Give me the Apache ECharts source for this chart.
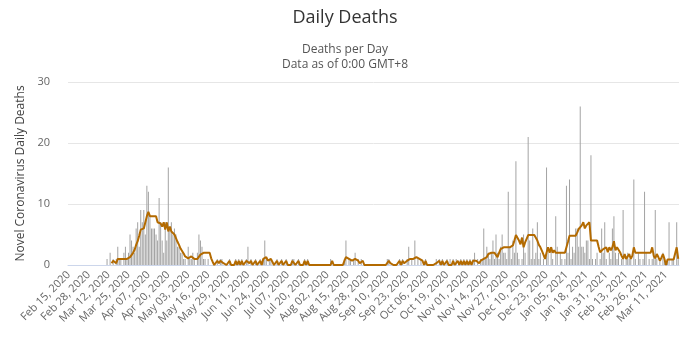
<!DOCTYPE html>
<html>
<head>
<meta charset="utf-8">
<script src="https://cdn.jsdelivr.net/npm/echarts@6/dist/echarts.min.js"></script>
<style>html,body{margin:0;padding:0;background:#fff}#c{width:690px;height:348px}</style>
</head>
<body>
<div id="c"></div>
<script>
// Date range of the chart (daily categories)
var startDate = [2020, 1, 15]; // Feb 15, 2020 (month 0-based)
var dayCount = 399;            // through Mar 19, 2021

// Daily deaths (bars)
var dailyDeaths = [
0,0,0,0,0,0,0,0,0,0,
0,0,0,0,0,0,0,0,0,0,
0,0,0,0,0,1,0,2,0,1,
0,1,3,1,1,0,2,3,1,2,
5,4,3,2,6,7,3,9,7,9,
5,13,12,8,6,6,6,5,4,11,
7,4,2,7,4,16,6,7,5,6,
5,3,3,2,2,1,1,0,3,1,
1,2,1,0,2,5,4,3,1,1,
0,1,0,0,0,0,0,1,0,1,
1,0,0,0,0,1,0,0,0,1,
0,1,0,1,0,0,1,3,0,1,
0,0,1,0,0,1,0,1,4,1,
0,1,1,0,0,0,1,0,0,1,
0,0,1,0,0,0,1,1,0,0,
1,0,0,0,1,0,1,0,0,0,
0,0,0,0,0,0,0,0,0,0,
0,1,0,0,0,0,0,0,0,0,
1,4,0,1,1,0,1,2,0,1,
0,1,0,0,0,0,0,0,0,0,
0,0,0,0,0,0,0,0,1,1,
0,0,0,0,0,0,1,0,1,0,
0,1,3,0,1,0,4,0,1,0,
1,0,0,1,0,0,0,0,0,0,
1,0,1,0,1,0,0,1,0,1,
0,1,0,1,0,0,1,0,1,0,
1,0,1,0,1,2,0,1,0,1,
1,6,1,3,2,1,2,4,1,5,
2,1,3,5,2,2,1,12,3,1,
4,2,17,2,1,0,1,5,2,0,
21,4,1,6,1,2,7,1,2,0,
1,0,16,2,0,3,1,0,8,3,
0,2,1,0,1,13,2,14,1,3,
2,6,6,3,26,3,3,2,4,4,
1,18,1,0,1,2,0,1,6,2,
7,1,0,2,1,6,8,2,1,2,
0,1,9,0,1,2,1,1,0,14,
1,0,2,1,0,1,12,2,0,1,
0,1,2,9,1,0,1,0,2,1,
0,1,7,0,1,1,0,7,1
];

// Moving average line (null = not drawn)
var movingAvg = [
null,null,null,null,null,null,null,null,null,null,
null,null,null,null,null,null,null,null,null,null,
null,null,null,null,null,null,null,null,0.3,0.7,
1,0.3,1,0.7,1,1,1,1,1,1,
1.3,1.6,2,2.5,3.3,3.9,4.8,5.8,6,6,
6.3,8,8.7,8,8,8,8,8,7,6.8,
6.8,6.3,7,5.8,7,5.5,6.3,5.5,5.5,5,
4.4,3.8,3.3,2.7,2.3,1.9,1.4,1.2,1.1,1.3,
1.4,1.2,1,1,1,1,1.7,2,2,2,
2,2,2,1.1,0.5,0,0,0.7,0.3,0.7,
0.8,0.3,0,0,0,0.7,0,0,0,0.7,
0,0.7,0,0.7,0,0,0.7,1,0.3,0.7,
0,0,0.7,0,0,0.7,0,1,1.3,1.3,
0.7,1,1,0.7,0,0,0.7,0,0,0.7,
0,0,0.7,0,0,0,0.7,0.7,0,0,
0.7,0,0,0,0.7,0,0.7,0,0,0,
0,0,0,0,0,0,0,0,0,0,
0,0,0.7,0,0,0,0,0,0,0,
0.7,1.3,1.3,1,1,0.7,1,1,0.7,0.7,
0.3,0.3,0.7,0,0,0,0,0,0,0,
0,0,0,0,0,0,0,0,0.3,0.7,
0.3,0,0,0,0,0,0.7,0,0.7,0.3,
0,0.7,1,1,1.3,1,1.3,1.3,1,1,
1,0.7,0,0.7,0,0,0,0,0,0,
0.3,0,0.7,0,0.7,0,0,0.7,0,0.3,
0,0.7,0,0.3,0.7,0,0.7,0,0.7,0,
0.7,0,0.7,0,0.7,1,0.7,0.7,0.3,0.7,
1,1,1,1.3,1.8,2,2,2,2,2,
1.3,2,2.6,2.9,2.9,2.9,2.9,2.9,2.9,3,
3.2,4,4.9,4.7,4,3.4,4.5,2.9,3.7,4.3,
4.9,4.9,4.9,4.9,4.9,4.9,4,3.3,2.9,2.3,
1.7,1,2,2.9,2,2.9,2,2.4,2,2,
2,2,2,2,2,2.9,3.8,4.8,4.8,4.8,
4.8,4.8,5.3,5.9,6,6.5,7,6,6.5,6.8,
7,4,4,4,4,4,3,2.1,2.3,2.6,
2.9,2.9,2.1,2.9,2.4,2.9,3.9,2.4,2.9,2.9,
2.1,1.5,1,1.8,1,1.4,1.8,1,1.5,2.9,
2,2,2,2,2,2,2,2,2,2,
2,2.9,1.5,1.1,1.8,1.3,0.7,1.2,1.8,1,
0,0.9,0.9,0.9,0.9,0.9,0.9,2.9,1
];

var yTicks = [0, 10, 20, 30];
var monthNames = ['Jan','Feb','Mar','Apr','May','Jun','Jul','Aug','Sep','Oct','Nov','Dec'];

var categories = [];
for (var i = 0; i < dayCount; i++) {
  var d = new Date(Date.UTC(startDate[0], startDate[1], startDate[2] + i));
  var dd = d.getUTCDate();
  categories.push(monthNames[d.getUTCMonth()] + ' ' + (dd < 10 ? '0' + dd : dd) + ', ' + d.getUTCFullYear());
}

var FONT = '"Open Sans", "Noto Sans", sans-serif';
var chart = echarts.init(document.getElementById('c'), null, {renderer: 'canvas'});
chart.setOption({
  animation: false,
  textStyle: {fontFamily: FONT},
  title: [
    {text: 'Daily Deaths', left: 'center', top: 4,
     textStyle: {fontSize: 18, fontWeight: 'normal', color: '#333', fontFamily: FONT}},
    {text: 'Deaths per Day\nData as of 0:00 GMT+8', left: 'center', top: 37,
     textStyle: {fontSize: 12, fontWeight: 'normal', color: '#555', lineHeight: 15, fontFamily: FONT}}
  ],
  grid: {left: 68, right: 11, top: 82, bottom: 83, containLabel: false},
  xAxis: {
    type: 'category',
    data: categories,
    boundaryGap: true,
    axisLine: {lineStyle: {color: '#ccd6eb'}},
    axisTick: {show: false},
    axisLabel: {interval: 12, rotate: 45, fontSize: 11, color: '#666', margin: 8, fontFamily: FONT}
  },
  yAxis: {
    type: 'value',
    min: yTicks[0], max: yTicks[yTicks.length - 1], interval: 10,
    name: 'Novel Coronavirus Daily Deaths',
    nameLocation: 'middle', nameGap: 40,
    nameTextStyle: {fontSize: 12, color: '#444', fontFamily: FONT},
    axisLine: {show: false},
    axisTick: {show: false},
    axisLabel: {fontSize: 11, color: '#666', margin: 18, fontFamily: FONT},
    splitLine: {lineStyle: {color: '#e6e6e6'}}
  },
  series: [
    {type: 'bar', data: dailyDeaths, barWidth: 1, itemStyle: {color: '#a3a3a3'}, z: 1},
    {type: 'line', data: movingAvg, symbol: 'none', connectNulls: false,
     lineStyle: {width: 2, color: '#b36a00'}, itemStyle: {color: '#b36a00'}, z: 2}
  ]
});
</script>
</body>
</html>
